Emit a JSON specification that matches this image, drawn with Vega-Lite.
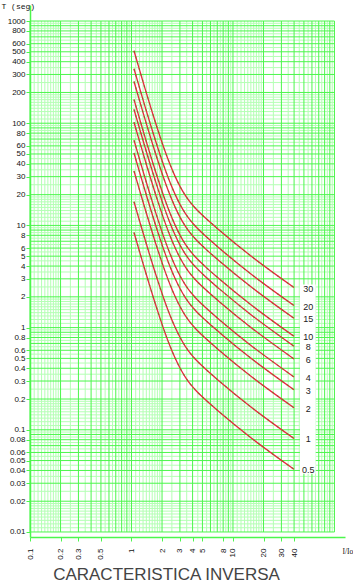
{
 "$schema": "https://vega.github.io/schema/vega-lite/v6.json",
 "width": 315, "height": 532,
 "autosize": "none",
 "padding": {"left": 30, "top": 5, "right": 8, "bottom": 47},
 "background": "white",
 "config": {"view": {"stroke": null}},
 "title": {"text": "CARACTERISTICA INVERSA", "orient": "bottom", "anchor": "middle", "dx": -21, "offset": 8, "font": "Liberation Sans", "fontSize": 17, "fontWeight": "normal", "color": "#444"},
 "datasets": {
  "xb": [{"v":0.1},{"v":0.2},{"v":0.3},{"v":0.4},{"v":0.5},{"v":0.6},{"v":0.7},{"v":0.8},{"v":0.9},{"v":1},{"v":2},{"v":3},{"v":4},{"v":5},{"v":6},{"v":7},{"v":8},{"v":9},{"v":10},{"v":20},{"v":30},{"v":40},{"v":50},{"v":60},{"v":70},{"v":80},{"v":90},{"v":100}],
  "xl": [{"v":0.11},{"v":0.12},{"v":0.13},{"v":0.14},{"v":0.15},{"v":0.16},{"v":0.17},{"v":0.18},{"v":0.19},{"v":0.25},{"v":0.35},{"v":0.45},{"v":0.55},{"v":0.65},{"v":0.75},{"v":0.85},{"v":0.95},
         {"v":1.1},{"v":1.2},{"v":1.3},{"v":1.4},{"v":1.5},{"v":1.6},{"v":1.7},{"v":1.8},{"v":1.9},{"v":2.5},{"v":3.5},{"v":4.5},{"v":5.5},{"v":6.5},{"v":7.5},{"v":8.5},{"v":9.5},
         {"v":11},{"v":12},{"v":13},{"v":14},{"v":15},{"v":16},{"v":17},{"v":18},{"v":19},{"v":25},{"v":35},{"v":45},{"v":55},{"v":65},{"v":75},{"v":85},{"v":95}],
  "yb": [{"v":0.01},{"v":0.02},{"v":0.03},{"v":0.04},{"v":0.05},{"v":0.06},{"v":0.07},{"v":0.08},{"v":0.09},
         {"v":0.1},{"v":0.2},{"v":0.3},{"v":0.4},{"v":0.5},{"v":0.6},{"v":0.7},{"v":0.8},{"v":0.9},
         {"v":1},{"v":2},{"v":3},{"v":4},{"v":5},{"v":6},{"v":7},{"v":8},{"v":9},
         {"v":10},{"v":20},{"v":30},{"v":40},{"v":50},{"v":60},{"v":70},{"v":80},{"v":90},
         {"v":100},{"v":200},{"v":300},{"v":400},{"v":500},{"v":600},{"v":700},{"v":800},{"v":900},{"v":1000}],
  "yl": [{"v":0.011},{"v":0.012},{"v":0.013},{"v":0.014},{"v":0.015},{"v":0.016},{"v":0.017},{"v":0.018},{"v":0.019},{"v":0.025},{"v":0.035},{"v":0.045},{"v":0.055},{"v":0.065},{"v":0.075},{"v":0.085},{"v":0.095},
         {"v":0.11},{"v":0.12},{"v":0.13},{"v":0.14},{"v":0.15},{"v":0.16},{"v":0.17},{"v":0.18},{"v":0.19},{"v":0.25},{"v":0.35},{"v":0.45},{"v":0.55},{"v":0.65},{"v":0.75},{"v":0.85},{"v":0.95},
         {"v":1.1},{"v":1.2},{"v":1.3},{"v":1.4},{"v":1.5},{"v":1.6},{"v":1.7},{"v":1.8},{"v":1.9},{"v":2.5},{"v":3.5},{"v":4.5},{"v":5.5},{"v":6.5},{"v":7.5},{"v":8.5},{"v":9.5},
         {"v":11},{"v":12},{"v":13},{"v":14},{"v":15},{"v":16},{"v":17},{"v":18},{"v":19},{"v":25},{"v":35},{"v":45},{"v":55},{"v":65},{"v":75},{"v":85},{"v":95},
         {"v":110},{"v":120},{"v":130},{"v":140},{"v":150},{"v":160},{"v":170},{"v":180},{"v":190},{"v":250},{"v":350},{"v":450},{"v":550},{"v":650},{"v":750},{"v":850},{"v":950}],
  "curves": [
   {"k":"0.5","I":1.058,"t":8.525},{"k":"0.5","I":1.213,"t":5.355},{"k":"0.5","I":1.358,"t":3.657},{"k":"0.5","I":1.521,"t":2.52},{"k":"0.5","I":1.704,"t":1.752},{"k":"0.5","I":1.909,"t":1.238},{"k":"0.5","I":2.138,"t":0.892},{"k":"0.5","I":2.395,"t":0.6605},{"k":"0.5","I":2.683,"t":0.506},{"k":"0.5","I":3.005,"t":0.402},{"k":"0.5","I":3.366,"t":0.3317},{"k":"0.5","I":3.77,"t":0.2827},{"k":"0.5","I":4.224,"t":0.248},{"k":"0.5","I":5.298,"t":0.1988},{"k":"0.5","I":7.445,"t":0.1479},{"k":"0.5","I":14.71,"t":0.0851},{"k":"0.5","I":39.9,"t":0.0411},
   {"k":"1","I":1.058,"t":17.05},{"k":"1","I":1.213,"t":10.71},{"k":"1","I":1.358,"t":7.313},{"k":"1","I":1.521,"t":5.039},{"k":"1","I":1.704,"t":3.504},{"k":"1","I":1.909,"t":2.475},{"k":"1","I":2.138,"t":1.784},{"k":"1","I":2.395,"t":1.321},{"k":"1","I":2.683,"t":1.012},{"k":"1","I":3.005,"t":0.804},{"k":"1","I":3.366,"t":0.6634},{"k":"1","I":3.77,"t":0.5653},{"k":"1","I":4.224,"t":0.496},{"k":"1","I":5.298,"t":0.3975},{"k":"1","I":7.445,"t":0.2957},{"k":"1","I":14.71,"t":0.1701},{"k":"1","I":39.9,"t":0.0822},
   {"k":"2","I":1.058,"t":34.1},{"k":"2","I":1.213,"t":21.42},{"k":"2","I":1.358,"t":14.63},{"k":"2","I":1.521,"t":10.08},{"k":"2","I":1.704,"t":7.008},{"k":"2","I":1.909,"t":4.95},{"k":"2","I":2.138,"t":3.568},{"k":"2","I":2.395,"t":2.642},{"k":"2","I":2.683,"t":2.024},{"k":"2","I":3.005,"t":1.608},{"k":"2","I":3.366,"t":1.327},{"k":"2","I":3.77,"t":1.131},{"k":"2","I":4.224,"t":0.992},{"k":"2","I":5.298,"t":0.795},{"k":"2","I":7.445,"t":0.5914},{"k":"2","I":14.71,"t":0.3402},{"k":"2","I":39.9,"t":0.1644},
   {"k":"3","I":1.058,"t":51.15},{"k":"3","I":1.213,"t":32.13},{"k":"3","I":1.358,"t":21.94},{"k":"3","I":1.521,"t":15.12},{"k":"3","I":1.704,"t":10.51},{"k":"3","I":1.909,"t":7.425},{"k":"3","I":2.138,"t":5.352},{"k":"3","I":2.395,"t":3.963},{"k":"3","I":2.683,"t":3.036},{"k":"3","I":3.005,"t":2.412},{"k":"3","I":3.366,"t":1.99},{"k":"3","I":3.77,"t":1.696},{"k":"3","I":4.224,"t":1.488},{"k":"3","I":5.298,"t":1.193},{"k":"3","I":7.445,"t":0.8871},{"k":"3","I":14.71,"t":0.5103},{"k":"3","I":39.9,"t":0.2466},
   {"k":"4","I":1.058,"t":68.2},{"k":"4","I":1.213,"t":42.84},{"k":"4","I":1.358,"t":29.25},{"k":"4","I":1.521,"t":20.16},{"k":"4","I":1.704,"t":14.02},{"k":"4","I":1.909,"t":9.9},{"k":"4","I":2.138,"t":7.136},{"k":"4","I":2.395,"t":5.284},{"k":"4","I":2.683,"t":4.048},{"k":"4","I":3.005,"t":3.216},{"k":"4","I":3.366,"t":2.654},{"k":"4","I":3.77,"t":2.261},{"k":"4","I":4.224,"t":1.984},{"k":"4","I":5.298,"t":1.59},{"k":"4","I":7.445,"t":1.183},{"k":"4","I":14.71,"t":0.6804},{"k":"4","I":39.9,"t":0.3288},
   {"k":"6","I":1.058,"t":102.3},{"k":"6","I":1.213,"t":64.26},{"k":"6","I":1.358,"t":43.88},{"k":"6","I":1.521,"t":30.23},{"k":"6","I":1.704,"t":21.02},{"k":"6","I":1.909,"t":14.85},{"k":"6","I":2.138,"t":10.7},{"k":"6","I":2.395,"t":7.926},{"k":"6","I":2.683,"t":6.072},{"k":"6","I":3.005,"t":4.824},{"k":"6","I":3.366,"t":3.98},{"k":"6","I":3.77,"t":3.392},{"k":"6","I":4.224,"t":2.976},{"k":"6","I":5.298,"t":2.385},{"k":"6","I":7.445,"t":1.774},{"k":"6","I":14.71,"t":1.021},{"k":"6","I":39.9,"t":0.4932},
   {"k":"8","I":1.058,"t":136.4},{"k":"8","I":1.213,"t":85.68},{"k":"8","I":1.358,"t":58.5},{"k":"8","I":1.521,"t":40.31},{"k":"8","I":1.704,"t":28.03},{"k":"8","I":1.909,"t":19.8},{"k":"8","I":2.138,"t":14.27},{"k":"8","I":2.395,"t":10.57},{"k":"8","I":2.683,"t":8.096},{"k":"8","I":3.005,"t":6.432},{"k":"8","I":3.366,"t":5.307},{"k":"8","I":3.77,"t":4.522},{"k":"8","I":4.224,"t":3.968},{"k":"8","I":5.298,"t":3.18},{"k":"8","I":7.445,"t":2.366},{"k":"8","I":14.71,"t":1.361},{"k":"8","I":39.9,"t":0.6576},
   {"k":"10","I":1.058,"t":170.5},{"k":"10","I":1.213,"t":107.1},{"k":"10","I":1.358,"t":73.13},{"k":"10","I":1.521,"t":50.39},{"k":"10","I":1.704,"t":35.04},{"k":"10","I":1.909,"t":24.75},{"k":"10","I":2.138,"t":17.84},{"k":"10","I":2.395,"t":13.21},{"k":"10","I":2.683,"t":10.12},{"k":"10","I":3.005,"t":8.04},{"k":"10","I":3.366,"t":6.634},{"k":"10","I":3.77,"t":5.653},{"k":"10","I":4.224,"t":4.96},{"k":"10","I":5.298,"t":3.975},{"k":"10","I":7.445,"t":2.957},{"k":"10","I":14.71,"t":1.701},{"k":"10","I":39.9,"t":0.822},
   {"k":"15","I":1.058,"t":255.8},{"k":"15","I":1.213,"t":160.7},{"k":"15","I":1.358,"t":109.7},{"k":"15","I":1.521,"t":75.59},{"k":"15","I":1.704,"t":52.56},{"k":"15","I":1.909,"t":37.13},{"k":"15","I":2.138,"t":26.76},{"k":"15","I":2.395,"t":19.82},{"k":"15","I":2.683,"t":15.18},{"k":"15","I":3.005,"t":12.06},{"k":"15","I":3.366,"t":9.951},{"k":"15","I":3.77,"t":8.48},{"k":"15","I":4.224,"t":7.44},{"k":"15","I":5.298,"t":5.963},{"k":"15","I":7.445,"t":4.436},{"k":"15","I":14.71,"t":2.552},{"k":"15","I":39.9,"t":1.233},
   {"k":"20","I":1.058,"t":341},{"k":"20","I":1.213,"t":214.2},{"k":"20","I":1.358,"t":146.3},{"k":"20","I":1.521,"t":100.8},{"k":"20","I":1.704,"t":70.08},{"k":"20","I":1.909,"t":49.5},{"k":"20","I":2.138,"t":35.68},{"k":"20","I":2.395,"t":26.42},{"k":"20","I":2.683,"t":20.24},{"k":"20","I":3.005,"t":16.08},{"k":"20","I":3.366,"t":13.27},{"k":"20","I":3.77,"t":11.31},{"k":"20","I":4.224,"t":9.92},{"k":"20","I":5.298,"t":7.95},{"k":"20","I":7.445,"t":5.914},{"k":"20","I":14.71,"t":3.402},{"k":"20","I":39.9,"t":1.644},
   {"k":"30","I":1.058,"t":511.5},{"k":"30","I":1.213,"t":321.3},{"k":"30","I":1.358,"t":219.4},{"k":"30","I":1.521,"t":151.2},{"k":"30","I":1.704,"t":105.1},{"k":"30","I":1.909,"t":74.25},{"k":"30","I":2.138,"t":53.52},{"k":"30","I":2.395,"t":39.63},{"k":"30","I":2.683,"t":30.36},{"k":"30","I":3.005,"t":24.12},{"k":"30","I":3.366,"t":19.9},{"k":"30","I":3.77,"t":16.96},{"k":"30","I":4.224,"t":14.88},{"k":"30","I":5.298,"t":11.93},{"k":"30","I":7.445,"t":8.871},{"k":"30","I":14.71,"t":5.103},{"k":"30","I":39.9,"t":2.466}
  ],
  "labels": [{"lab":"30","t":2.466},{"lab":"20","t":1.644},{"lab":"15","t":1.233},{"lab":"10","t":0.822},{"lab":"8","t":0.6576},{"lab":"6","t":0.4932},{"lab":"4","t":0.3288},{"lab":"3","t":0.2466},{"lab":"2","t":0.1644},{"lab":"1","t":0.0822},{"lab":"0.5","t":0.0411}]
 },
 "layer": [
  {"data": {"name": "xl"}, "mark": {"type": "rule", "color": "#b4ffb4", "strokeWidth": 1},
   "encoding": {"x": {"field": "v", "type": "quantitative"}, "y": {"datum": 0.01}, "y2": {"datum": 1000}}},
  {"data": {"name": "yl"}, "mark": {"type": "rule", "color": "#b4ffb4", "strokeWidth": 1},
   "encoding": {"y": {"field": "v", "type": "quantitative"}, "x": {"datum": 0.1}, "x2": {"datum": 100}}},
  {"data": {"name": "xb"}, "mark": {"type": "rule", "color": "#4cf64c", "strokeWidth": 1},
   "encoding": {"x": {"field": "v", "type": "quantitative"}, "y": {"datum": 0.01}, "y2": {"datum": 1000}}},
  {"data": {"name": "yb"}, "mark": {"type": "rule", "color": "#4cf64c", "strokeWidth": 1},
   "encoding": {"y": {"field": "v", "type": "quantitative"}, "x": {"datum": 0.1}, "x2": {"datum": 100}}},
  {"data": {"values": [{}]}, "mark": {"type": "rect", "fill": "white"},
   "encoding": {"x": {"datum": 45.7}, "x2": {"datum": 65.3}, "y": {"datum": 0.0371}, "y2": {"datum": 2.64}}},
  {"data": {"name": "curves"}, "mark": {"type": "line", "color": "#ec2540", "strokeWidth": 1.3, "interpolate": "monotone"},
   "encoding": {
    "x": {"field": "I", "type": "quantitative", "scale": {"type": "log", "domain": [0.1, 127], "nice": false},
      "axis": {"values": [0.1,0.2,0.3,0.5,1,2,3,4,5,8,10,20,30,40], "labelExpr": "'' + datum.value", "grid": false, "zindex": 1,
        "domainColor": "#4cf64c", "domainWidth": 1.5, "tickColor": "#4cf64c", "tickSize": 4, "labelAngle": -90, "labelPadding": 7,
        "labelFont": "Liberation Sans", "labelFontSize": 8, "labelColor": "#111", "labelOverlap": false, "labelBound": false, "labelFlush": false,
        "title": "I/Io", "titleAngle": 0, "titleX": 312, "titleY": 14, "titleAlign": "left", "titleBaseline": "middle",
        "titleFont": "Liberation Serif", "titleFontSize": 7.5, "titleFontWeight": "normal", "titleColor": "#111"}},
    "y": {"field": "t", "type": "quantitative", "scale": {"type": "log", "domain": [0.00893, 1435], "nice": false},
      "axis": {"values": [0.01,0.02,0.03,0.04,0.05,0.06,0.08,0.1,0.2,0.3,0.4,0.5,0.6,0.8,1,2,3,4,5,6,8,10,20,30,40,50,60,80,100,200,300,400,500,600,800,1000],
        "labelExpr": "'' + datum.value", "grid": false, "zindex": 1,
        "domainColor": "#4cf64c", "domainWidth": 1.5, "tickColor": "#4cf64c", "tickSize": 4, "labelPadding": 1,
        "labelFont": "Liberation Sans", "labelFontSize": 8, "labelColor": "#111", "labelOverlap": false, "labelBound": false, "labelFlush": false,
        "title": "T (seg)", "titleAngle": 0, "titleX": -29, "titleY": 1, "titleAlign": "left", "titleBaseline": "middle",
        "titleFont": "Liberation Mono", "titleFontSize": 8, "titleFontWeight": "normal", "titleColor": "#111"}},
    "detail": {"field": "k"}}},
  {"data": {"name": "curves"}, "mark": {"type": "line", "color": "#6f7a1c", "strokeWidth": 1.3, "strokeDash": [2, 4], "opacity": 0.6, "interpolate": "monotone"},
   "encoding": {"x": {"field": "I", "type": "quantitative"}, "y": {"field": "t", "type": "quantitative"}, "detail": {"field": "k"}}},
  {"data": {"name": "labels"}, "mark": {"type": "text", "font": "Liberation Sans", "fontSize": 9, "color": "#222", "align": "center", "baseline": "middle", "dy": 1},
   "encoding": {"x": {"datum": 55.2}, "y": {"field": "t", "type": "quantitative"}, "text": {"field": "lab"}}}
 ]
}
